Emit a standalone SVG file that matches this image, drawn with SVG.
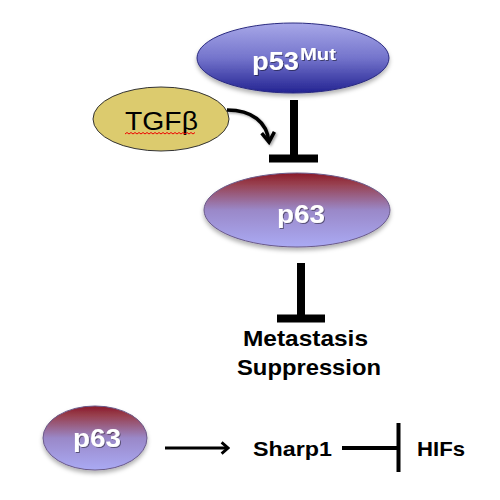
<svg xmlns="http://www.w3.org/2000/svg" width="500" height="500" viewBox="0 0 500 500">
<defs>
<linearGradient id="gBlue" x1="0" y1="0" x2="0" y2="1">
<stop offset="0" stop-color="#a8a8e8"/>
<stop offset="0.5" stop-color="#7474cc"/>
<stop offset="1" stop-color="#232392"/>
</linearGradient>
<linearGradient id="gRed" x1="0" y1="0" x2="0" y2="1">
<stop offset="0" stop-color="#8a1a2a"/>
<stop offset="0.15" stop-color="#98404f"/>
<stop offset="0.5" stop-color="#9a88c8"/>
<stop offset="1" stop-color="#aaaaf4"/>
</linearGradient>
<filter id="sh" x="-20%" y="-20%" width="140%" height="150%">
<feDropShadow dx="0" dy="3" stdDeviation="2" flood-color="#000" flood-opacity="0.3"/>
</filter>
<filter id="tsh" x="-20%" y="-20%" width="140%" height="150%">
<feDropShadow dx="1" dy="1" stdDeviation="0.6" flood-color="#000" flood-opacity="0.45"/>
</filter>
<filter id="lsh" x="-30%" y="-30%" width="160%" height="160%">
<feDropShadow dx="1.5" dy="1.5" stdDeviation="1" flood-color="#000" flood-opacity="0.35"/>
</filter>
<marker id="arr" viewBox="0 0 10 10" refX="8.5" refY="5" markerWidth="16" markerHeight="16" markerUnits="userSpaceOnUse" orient="auto">
<path d="M4.5,1.5 L8.5,5 L4.5,8.5" fill="none" stroke="#000" stroke-width="1.8"/>
</marker>
<marker id="arr2" viewBox="0 0 10 10" refX="8" refY="5" markerWidth="16" markerHeight="16" markerUnits="userSpaceOnUse" orient="auto">
<path d="M2,1 L8,5 L2,9" fill="none" stroke="#000" stroke-width="2.2"/>
</marker>
</defs>
<style>
.wl{font-family:"Liberation Sans",Arial,sans-serif;font-weight:bold;fill:#fff;filter:url(#tsh)}
.bl{font-family:"Liberation Sans",Arial,sans-serif;font-weight:bold;fill:#000}
.bar{stroke:#000;fill:none}
</style>
<g id="p53">
<ellipse cx="293" cy="58" rx="96" ry="35" fill="url(#gBlue)" stroke="#2a2a80" stroke-width="1" filter="url(#sh)"/>
<text class="wl" x="252" y="70" font-size="26" textLength="47" lengthAdjust="spacingAndGlyphs">p53</text>
<text class="wl" x="300" y="60" font-size="17" textLength="36" lengthAdjust="spacingAndGlyphs">Mut</text>
</g>
<g id="tgfb">
<ellipse cx="161" cy="119" rx="68" ry="32" fill="#dccb6e" stroke="#333" stroke-width="1"/>
<text x="125" y="130" font-family="'Liberation Sans',Arial,sans-serif" font-size="26" fill="#000" textLength="73" lengthAdjust="spacingAndGlyphs">TGFβ</text>
<path d="M125,134 l2,-1.5 l2,1.5 l2,-1.5 l2,1.5 l2,-1.5 l2,1.5 l2,-1.5 l2,1.5 l2,-1.5 l2,1.5 l2,-1.5 l2,1.5 l2,-1.5 l2,1.5 l2,-1.5 l2,1.5 l2,-1.5 l2,1.5 l2,-1.5 l2,1.5 l2,-1.5 l2,1.5 l2,-1.5 l2,1.5 l2,-1.5 l2,1.5 l2,-1.5 l2,1.5 l2,-1.5 l2,1.5 l2,-1.5 l2,1.5 l2,-1.5 l2,1.5 l2,-1.5" fill="none" stroke="#e00" stroke-width="1"/>
</g>
<g id="p63">
<ellipse cx="297" cy="210" rx="93" ry="37" fill="url(#gRed)" stroke="#6a5a8a" stroke-width="1" filter="url(#sh)"/>
<text class="wl" x="277" y="223" font-size="26" textLength="48" lengthAdjust="spacingAndGlyphs">p63</text>
</g>
<g id="metastasis">
<text class="bl" x="243" y="346" font-size="22" textLength="125" lengthAdjust="spacingAndGlyphs">Metastasis</text>
<text class="bl" x="237" y="375" font-size="22" textLength="144" lengthAdjust="spacingAndGlyphs">Suppression</text>
</g>
<g id="p63b">
<ellipse cx="95" cy="438" rx="52" ry="32" fill="url(#gRed)" stroke="#6a5a8a" stroke-width="1" filter="url(#sh)"/>
<text class="wl" x="73" y="447" font-size="26" textLength="48" lengthAdjust="spacingAndGlyphs">p63</text>
</g>
<g id="sharp1">
<text class="bl" x="253" y="456" font-size="21" textLength="79" lengthAdjust="spacingAndGlyphs">Sharp1</text>
</g>
<g id="hifs">
<text class="bl" x="417" y="456" font-size="21" textLength="48" lengthAdjust="spacingAndGlyphs">HIFs</text>
</g>
<g id="connectors">
<path class="bar" d="M294,100 V158 M269,158.5 H318" stroke-width="8"/>
<path d="M227,110 C252,110 267,122 269,142" fill="none" stroke="#000" stroke-width="3.5" marker-end="url(#arr2)" filter="url(#lsh)"/>
<path class="bar" d="M301,263 V318 M277,318.5 H325" stroke-width="8"/>
<path d="M165,448 H228" fill="none" stroke="#000" stroke-width="3" marker-end="url(#arr)"/>
<path class="bar" d="M342,448 H398 M398.5,423 V472" stroke-width="4"/>
</g>
</svg>
